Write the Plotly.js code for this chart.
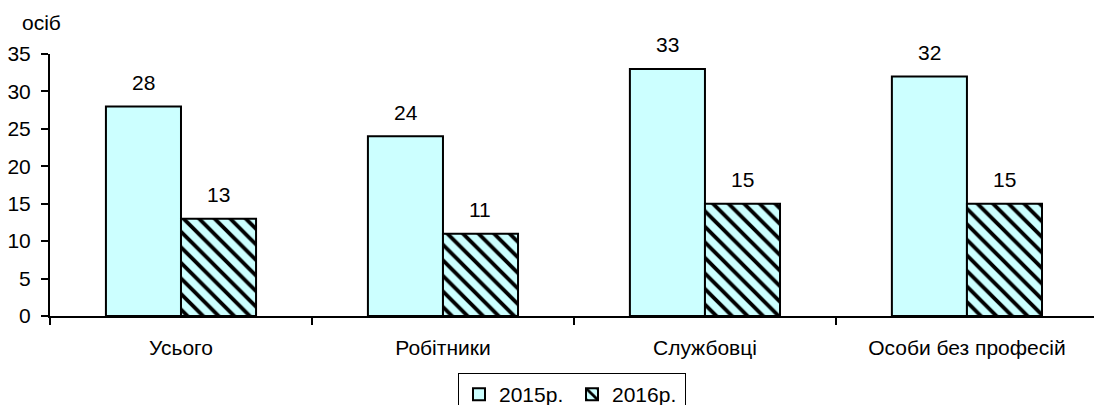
<!DOCTYPE html>
<html><head><meta charset="utf-8">
<script src="https://cdn.plot.ly/plotly-3.0.1.min.js"></script>
<style>body{margin:0;background:#fff}#c{width:1094px;height:405px}</style>
</head><body><div id="c"></div>
<script>
const categories = ["Усього", "Робітники", "Службовці", "Особи без професій"];
const seriesNames = ["2015р.", "2016р."];
const values2015 = [28, 24, 33, 32];
const values2016 = [13, 11, 15, 15];
const yTicks = [0, 5, 10, 15, 20, 25, 30, 35];
const unitLabel = "осіб";

const font = {family: "Liberation Sans", size: 21, color: "#000"};
const cyan = "#CCFFFF";

const traces = [
  {type: "bar", name: seriesNames[0], x: categories, y: values2015,
   marker: {color: cyan, line: {color: "#000", width: 2}}},
  {type: "bar", name: seriesNames[1], x: categories, y: values2016,
   marker: {color: cyan, line: {color: "#000", width: 2},
     pattern: {shape: "\\", fgcolor: "#000", bgcolor: cyan, size: 11, solidity: 0.35}}}
];

const annotations = [];
categories.forEach((c, i) => {
  annotations.push({x: i - 0.143, y: values2015[i], xref: "x", yref: "y", text: String(values2015[i]),
    showarrow: false, yanchor: "middle", yshift: 24, font: font});
  annotations.push({x: i + 0.143, y: values2016[i], xref: "x", yref: "y", text: String(values2016[i]),
    showarrow: false, yanchor: "middle", yshift: 24, font: font});
});
annotations.push({x: -0.0287, y: 1.122, xref: "paper", yref: "paper", text: unitLabel, showarrow: false,
  xanchor: "left", yanchor: "middle", font: font});

const layout = {
  width: 1094, height: 405,
  margin: {l: 50, r: 0, t: 54, b: 89, autoexpand: false},
  paper_bgcolor: "#fff", plot_bgcolor: "#fff",
  font: font,
  barmode: "group", bargap: 0.427, bargroupgap: 0,
  showlegend: true,
  legend: {orientation: "h", x: 0.5, xanchor: "center", y: -0.2176, yanchor: "top",
    bordercolor: "#000", borderwidth: 1, font: font, entrywidth: 68, entrywidthmode: "pixels",
    itemwidth: 30, tracegroupgap: 0},
  xaxis: {type: "category", range: [-0.5, 3.485], showline: true, linecolor: "#000", linewidth: 2,
    ticks: "outside", tickson: "boundaries", ticklen: 7, tickwidth: 2, tickcolor: "#000",
    ticklabelstandoff: 12, automargin: false,
    showgrid: false, zeroline: false, tickfont: font, fixedrange: true},
  yaxis: {range: [0, 35], tickvals: yTicks, ticktext: yTicks.map(String), showline: true,
    linecolor: "#000", linewidth: 2, ticks: "outside", ticklen: 7, tickwidth: 2, tickcolor: "#000",
    ticklabelstandoff: 6, automargin: false,
    showgrid: false, zeroline: false, tickfont: font},
  annotations: annotations
};

Plotly.newPlot("c", traces, layout, {displayModeBar: false, staticPlot: true});
</script></body></html>
